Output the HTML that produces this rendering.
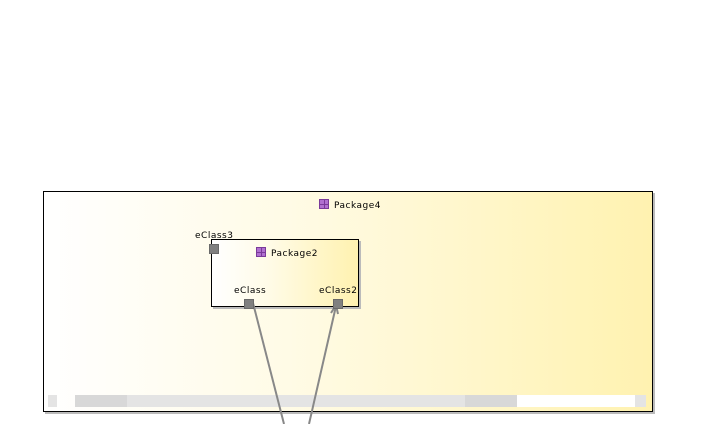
<!DOCTYPE html>
<html><head><style>
body{margin:0;width:722px;height:424px;background:#fff;position:relative;overflow:hidden;font-family:"DejaVu Sans","Liberation Sans",sans-serif;font-size:9px;letter-spacing:0.5px;color:#000}
.abs{position:absolute}
.pkg{border:1px solid #000;box-shadow:2px 2px 0 #bbb;background:linear-gradient(to right,#fff 0%,#fffbe6 40%,#fff2b0 100%)}
.port{position:absolute;width:10px;height:10px;background:#808080;border:1px solid #6a6a6a;box-sizing:border-box}
.icon{display:inline-block;width:10px;height:10px;background:#b070d0;border:1px solid #7a3a9a;box-sizing:border-box;vertical-align:-1px;margin-right:5px;background-image:linear-gradient(#7a3a9a,#7a3a9a),linear-gradient(#7a3a9a,#7a3a9a);background-size:1px 100%,100% 1px;background-position:4px 0,0 4px;background-repeat:no-repeat}
</style></head><body>
<div class="abs pkg" style="left:43px;top:191px;width:608px;height:219px"></div>
<div class="abs" style="left:319px;top:199px"><span class="icon"></span>Package4</div>
<div class="abs" style="left:48px;top:395px;width:9px;height:12px;background:#e4e4e4"></div>
<div class="abs" style="left:75px;top:395px;width:52px;height:12px;background:#d8d8d8"></div>
<div class="abs" style="left:127px;top:395px;width:338px;height:12px;background:#e4e4e4"></div>
<div class="abs" style="left:465px;top:395px;width:52px;height:12px;background:#d8d8d8"></div>
<div class="abs" style="left:517px;top:395px;width:118px;height:12px;background:#fff"></div>
<div class="abs" style="left:635px;top:395px;width:11px;height:12px;background:#e4e4e4"></div>
<div class="abs pkg" style="left:211px;top:239px;width:146px;height:66px"></div>
<div class="abs" style="left:256px;top:247px"><span class="icon"></span>Package2</div>
<div class="abs" style="left:195px;top:231px">eClass3</div>
<div class="port" style="left:209px;top:244px"></div>
<div class="abs" style="left:234px;top:286px">eClass</div>
<div class="abs" style="left:319px;top:286px">eClass2</div>
<svg class="abs" style="left:0;top:0" width="722" height="424">
<line x1="253" y1="303" x2="284" y2="424" stroke="#888" stroke-width="2"/>
<line x1="309" y1="424" x2="336" y2="306" stroke="#888" stroke-width="2"/>
<polyline points="331,313 336,305 338,314" fill="none" stroke="#888" stroke-width="2"/>
</svg>
<div class="port" style="left:244px;top:299px"></div>
<div class="port" style="left:333px;top:299px"></div>
</body></html>
